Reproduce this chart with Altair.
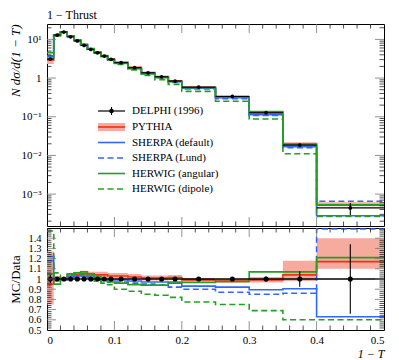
import altair as alt
import pandas as pd

# ---------------- data ----------------
edges = [0.00, 0.01, 0.02, 0.03, 0.04, 0.05, 0.06, 0.07, 0.08, 0.09, 0.10,
         0.12, 0.14, 0.16, 0.18, 0.20, 0.25, 0.30, 0.35, 0.40, 0.50]
delphi = [3.1, 12.9, 15.5, 11.7, 9.1, 7.0, 5.5, 4.5, 3.7, 3.05,
          2.5, 1.85, 1.37, 1.08, 0.84, 0.585, 0.336, 0.127, 0.0185, 0.00044]
delphi_relerr = [0.04, 0.015, 0.01, 0.01, 0.01, 0.01, 0.01, 0.01, 0.01, 0.01,
                 0.01, 0.01, 0.012, 0.012, 0.015, 0.015, 0.02, 0.025, 0.075, 0.34]
# MC / Data ratios
pythia = [0.95, 1.00, 1.00, 1.03, 1.04, 1.05, 1.04, 1.04, 1.04, 1.03,
          1.03, 1.02, 1.01, 1.01, 1.015, 0.99, 0.98, 0.99, 1.04, 1.17]
pythia_lo = [0.75, 0.97, 0.98, 1.00, 1.01, 1.02, 1.01, 1.01, 1.01, 1.00,
             1.00, 0.99, 0.985, 0.985, 0.99, 0.97, 0.96, 0.965, 0.98, 1.10]
pythia_hi = [1.27, 1.03, 1.02, 1.06, 1.07, 1.08, 1.07, 1.07, 1.07, 1.06,
             1.06, 1.05, 1.035, 1.035, 1.04, 1.01, 1.00, 1.02, 1.18, 1.40]
sherpa_default = [1.22, 1.01, 1.00, 1.02, 1.03, 1.03, 1.02, 1.01, 1.00, 0.99,
                  0.99, 0.98, 0.97, 0.97, 0.96, 0.93, 0.92, 0.895, 0.905, 0.63]
sherpa_lund = [1.18, 1.00, 0.99, 1.01, 1.02, 1.02, 1.00, 0.99, 0.98, 0.97,
               0.97, 0.96, 0.95, 0.94, 0.92, 0.90, 0.87, 0.85, 0.86, 1.49]
herwig_angular = [1.05, 0.95, 1.00, 1.05, 1.06, 1.07, 1.05, 1.03, 0.99, 0.97,
                  0.96, 0.945, 0.94, 0.94, 0.97, 0.965, 0.975, 1.07, 1.07, 1.21]
herwig_dipole = [1.47, 1.06, 1.00, 1.04, 1.05, 1.04, 1.01, 0.98, 0.96, 0.945,
                 0.90, 0.88, 0.85, 0.84, 0.82, 0.775, 0.75, 0.69, 0.60, 0.60]

legend_labels = ["DELPHI (1996)", "PYTHIA", "SHERPA (default)", "SHERPA (Lund)",
                 "HERWIG (angular)", "HERWIG (dipole)"]

top_tick_values = [0.001, 0.01, 0.1, 1, 10]
top_tick_labels = ["10⁻³", "10⁻²", "10⁻¹", "1", "10¹"]
ratio_tick_values = [0.5, 0.6, 0.7, 0.8, 0.9, 1.0, 1.1, 1.2, 1.3, 1.4]
ratio_tick_labels = ["0.5", "0.6", "0.7", "0.8", "0.9", "1", "1.1", "1.2", "1.3", "1.4"]
x_tick_values = [0.0, 0.1, 0.2, 0.3, 0.4, 0.5]
x_tick_labels = ["0", "0.1", "0.2", "0.3", "0.4", "0.5"]

x_major = [0.1, 0.2, 0.3, 0.4]
x_minor = [0.02, 0.04, 0.06, 0.08, 0.12, 0.14, 0.16, 0.18, 0.22, 0.24, 0.26, 0.28,
           0.32, 0.34, 0.36, 0.38, 0.42, 0.44, 0.46, 0.48]
top_y_major = [0.001, 0.01, 0.1, 1, 10]
top_y_minor = [k * 10.0 ** n for n in range(-4, 2) for k in range(2, 10)
               if 1.5e-4 < k * 10.0 ** n < 25]
ratio_y_major = [0.6, 0.7, 0.8, 0.9, 1.0, 1.1, 1.2, 1.3, 1.4]
ratio_y_minor = [round(0.5 + 0.02 * i, 2) for i in range(1, 50) if i % 5 != 0]

# ---------------- styles ----------------
W, HT, HB = 337, 202, 102
FONT = "Liberation Serif, DejaVu Serif, serif"
RED, BAND, BLUE, GREEN = "#ee3311", "#f5ab9e", "#3366ff", "#22a022"
DASH = [6, 3.5]
LW = 1.6

xs = alt.Scale(domain=[0, 0.5], nice=False, zero=False)
ys_top = alt.Scale(type="log", domain=[1.5e-4, 25], nice=False)
ys_bot = alt.Scale(domain=[0.5, 1.5], nice=False, zero=False)


def label_expr(vals, labs):
    expr = "''"
    for v, l in zip(vals, labs):
        expr = f"abs(datum.value - {v}) < {abs(v) * 1e-6 + 1e-9} ? '{l}' : " + expr
    return expr


axis_top_y = alt.Axis(values=top_tick_values, labelExpr=label_expr(top_tick_values, top_tick_labels),
                      title="N dσ/d(1 − T)", titleFontStyle="italic", titleAnchor="end",
                      titleFontSize=13, labelPadding=6, minExtent=23, maxExtent=23, titlePadding=2,
                      labelOverlap=False)
axis_bot_y = alt.Axis(values=ratio_tick_values, labelExpr=label_expr(ratio_tick_values, ratio_tick_labels),
                      title="MC/Data", titleAnchor="middle", labelFontSize=10.5, titleFontSize=13,
                      labelPadding=6, minExtent=23, maxExtent=23, titlePadding=2,
                      labelOverlap=False)
axis_bot_x = alt.Axis(values=x_tick_values, labelExpr=label_expr(x_tick_values, x_tick_labels),
                      title="1 − T", titleFontStyle="italic", titleAnchor="end",
                      labelPadding=4, titlePadding=3, labelOverlap=False)


def X(field, axis):
    return alt.X(field, scale=xs, axis=axis)


def step_df(vals):
    return pd.DataFrame({"x": edges[:-1] + [edges[-1]], "y": list(vals) + [vals[-1]]})


def panel(scale_y, axis_y, axis_x, mc_factor, H):
    def Y(field):
        return alt.Y(field, scale=scale_y, axis=axis_y)

    layers = []
    lo = [a * b for a, b in zip(pythia_lo, mc_factor)]
    hi = [a * b for a, b in zip(pythia_hi, mc_factor)]
    band_df = pd.DataFrame({"x": edges[:-1] + [edges[-1]], "lo": lo + [lo[-1]], "hi": hi + [hi[-1]]})
    layers.append(alt.Chart(band_df).mark_area(interpolate="step-after", color=BAND, clip=True)
                  .encode(x=X("x:Q", axis_x), y=Y("lo:Q"), y2="hi:Q"))
    series = [(pythia, RED, None), (sherpa_default, BLUE, None), (sherpa_lund, BLUE, DASH),
              (herwig_angular, GREEN, None), (herwig_dipole, GREEN, DASH)]
    for vals, col, dash in series:
        v = [a * b for a, b in zip(vals, mc_factor)]
        kw = dict(interpolate="step-after", color=col, strokeWidth=LW, clip=True)
        if dash:
            kw["strokeDash"] = dash
        layers.append(alt.Chart(step_df(v)).mark_line(**kw)
                      .encode(x=X("x:Q", axis_x), y=Y("y:Q")))
    # data
    dvals = list(mc_factor)
    dd = pd.DataFrame({
        "x0": edges[:-1], "x1": edges[1:],
        "xc": [(a + b) / 2 for a, b in zip(edges[:-1], edges[1:])],
        "y": dvals,
        "ylo": [d * (1 - e) for d, e in zip(dvals, delphi_relerr)],
        "yhi": [d * (1 + e) for d, e in zip(dvals, delphi_relerr)],
    })
    is_top = H == HT
    layers.append(alt.Chart(dd).mark_rule(color="black", strokeWidth=1.1 if is_top else 1.4, clip=True)
                  .encode(x=X("x0:Q", axis_x), x2="x1:Q", y=Y("y:Q")))
    layers.append(alt.Chart(dd).mark_rule(color="black", strokeWidth=1.1, clip=True)
                  .encode(x=X("xc:Q", axis_x), y=Y("ylo:Q"), y2="yhi:Q"))
    layers.append(alt.Chart(dd).mark_circle(color="black", opacity=1, size=14 if is_top else 26, clip=True)
                  .encode(x=X("xc:Q", axis_x), y=Y("y:Q")))
    # inner ticks
    ymaj = top_y_major if is_top else ratio_y_major
    ymin = top_y_minor if is_top else ratio_y_minor
    for tv, L, col in [(x_major, 9, "#777777"), (x_minor, 4.5, "#222222")]:
        tdf = pd.DataFrame({"t": tv})
        for y0, y1 in [(0, L), (H, H - L)]:
            layers.append(alt.Chart(tdf).mark_rule(color=col, strokeWidth=0.8)
                          .encode(x=X("t:Q", axis_x), y=alt.value(y0), y2=alt.value(y1)))
    for tv, L, col in [(ymaj, 9, "#777777"), (ymin, 4.5, "#222222")]:
        tdf = pd.DataFrame({"t": tv})
        for x0, x1 in [(0, L), (W, W - L)]:
            layers.append(alt.Chart(tdf).mark_rule(color=col, strokeWidth=0.8)
                          .encode(y=Y("t:Q"), x=alt.value(x0), x2=alt.value(x1)))
    return layers


top_layers = panel(ys_top, axis_top_y, None, delphi, HT)
bot_layers = panel(ys_bot, axis_bot_y, axis_bot_x, [1.0] * len(delphi), HB)

# ---------------- legend (top panel) ----------------
row_y = [87, 103, 118.5, 134, 149.5, 165]
lx0, lx1, ltx = 51, 78, 85
leg = []
for i, lab in enumerate(legend_labels):
    ry = row_y[i]
    leg.append(alt.Chart().mark_text(align="left", baseline="middle", font=FONT, fontSize=11, color="black")
               .encode(x=alt.value(ltx), y=alt.value(ry), text=alt.value(lab)))
leg.append(alt.Chart().mark_rule(color="black", strokeWidth=1.2)
           .encode(x=alt.value(lx0), x2=alt.value(lx1), y=alt.value(row_y[0])))
leg.append(alt.Chart().mark_rule(color="black", strokeWidth=1.1)
           .encode(x=alt.value((lx0 + lx1) / 2), y=alt.value(row_y[0] - 4), y2=alt.value(row_y[0] + 4)))
leg.append(alt.Chart().mark_circle(color="black", opacity=1, size=20)
           .encode(x=alt.value((lx0 + lx1) / 2), y=alt.value(row_y[0])))
leg.append(alt.Chart().mark_rect(color=BAND)
           .encode(x=alt.value(lx0), x2=alt.value(lx1), y=alt.value(row_y[1] - 4), y2=alt.value(row_y[1] + 4)))
leg.append(alt.Chart().mark_rule(color=RED, strokeWidth=LW)
           .encode(x=alt.value(lx0), x2=alt.value(lx1), y=alt.value(row_y[1])))
for i, (col, dash) in enumerate([(BLUE, None), (BLUE, DASH), (GREEN, None), (GREEN, DASH)]):
    kw = dict(color=col, strokeWidth=LW)
    if dash:
        kw["strokeDash"] = dash
    leg.append(alt.Chart().mark_rule(**kw)
               .encode(x=alt.value(lx0), x2=alt.value(lx1), y=alt.value(row_y[i + 2])))

top = alt.layer(*top_layers, *leg).properties(
    width=W, height=HT,
    title=alt.TitleParams("1 − Thrust", anchor="start", frame="group", font=FONT, fontSize=12,
                          fontWeight="normal", color="black", offset=2))
bot = alt.layer(*bot_layers).properties(width=W, height=HB)

chart = alt.vconcat(top, bot, spacing=0).properties(
    padding={"left": 0, "top": 0, "right": 5, "bottom": 0}
).configure_view(stroke="black", strokeWidth=1).configure_axis(
    grid=False, domain=False, ticks=False, labelFont=FONT, titleFont=FONT,
    labelFontSize=11, titleFontSize=12, labelColor="black", titleColor="black",
    titleFontWeight="normal")

chart.save("out.html", embed_options={"renderer": "svg", "actions": False})
